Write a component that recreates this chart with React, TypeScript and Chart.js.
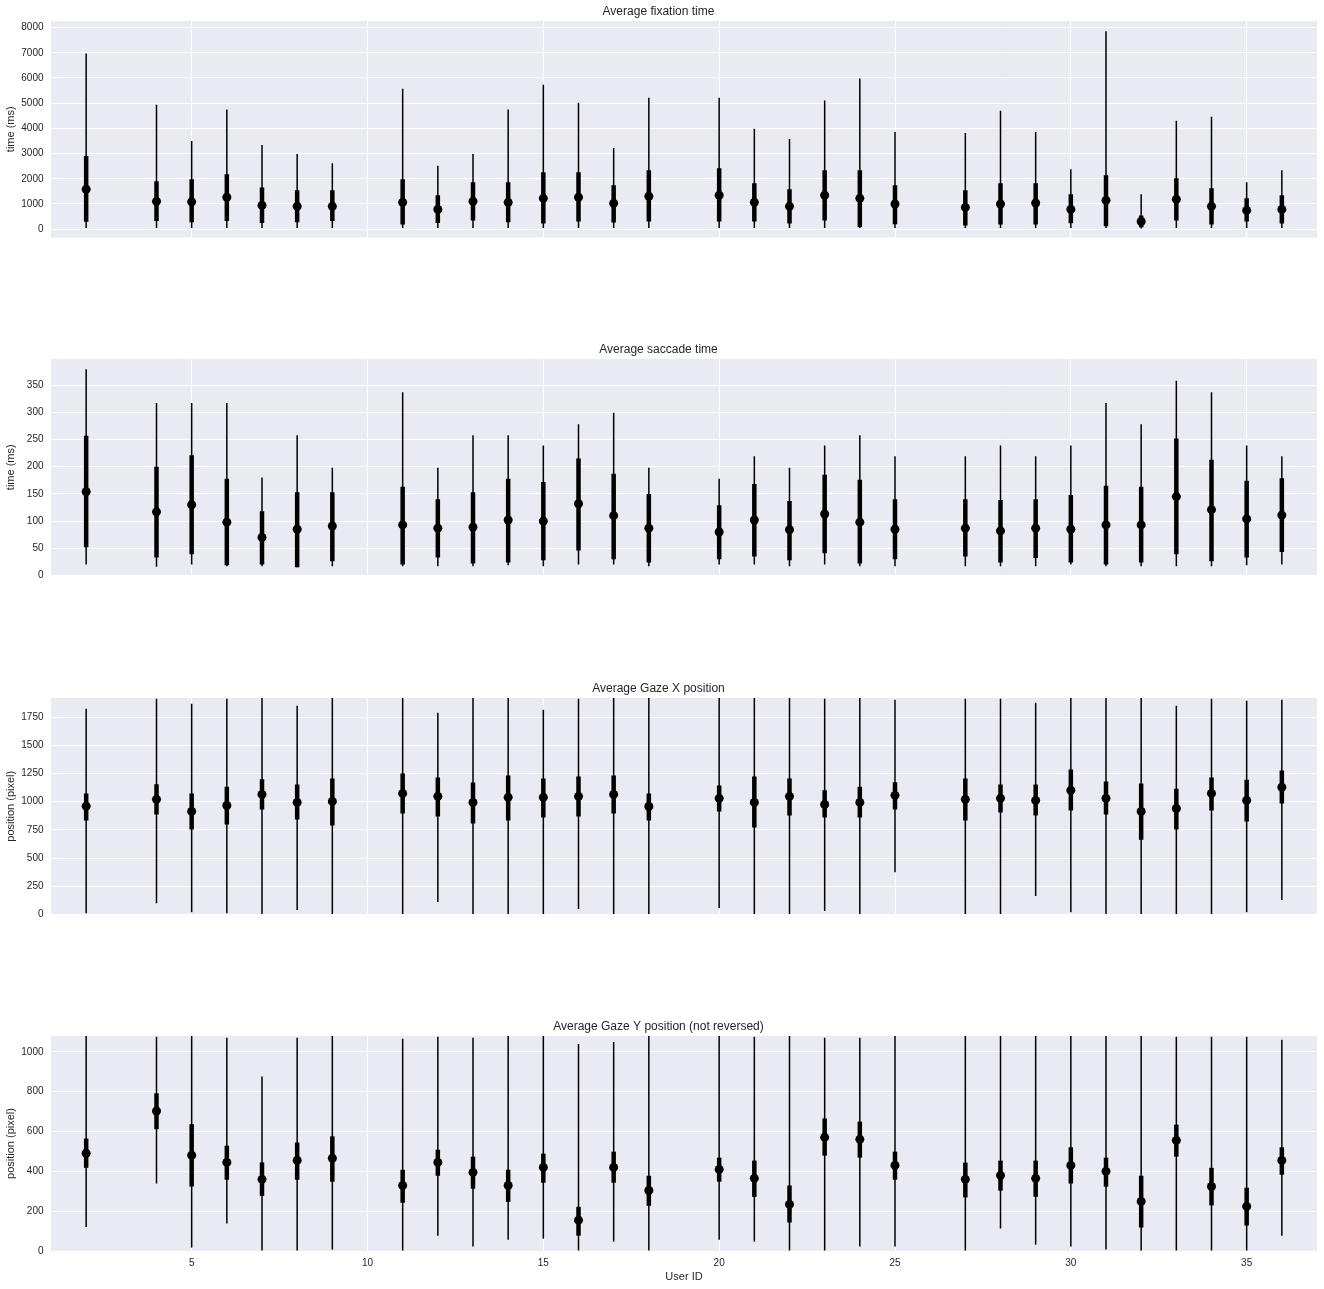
import React, { useEffect, useRef } from "react";
import { Chart, registerables } from "chart.js";

Chart.register(...registerables);

const USER_IDS = [2, 4, 5, 6, 7, 8, 9, 11, 12, 13, 14, 15, 16, 17, 18, 20, 21, 22, 23, 24, 25, 27, 28, 29, 30, 31, 32, 33, 34, 35, 36];
const X_TICKS = [5, 10, 15, 20, 25, 30, 35];

// Average fixation time (ms)
const FIX_MEAN = [1585, 1105, 1085, 1265, 945, 905, 905, 1065, 785, 1105, 1065, 1225, 1265, 1025, 1305, 1345, 1065, 905, 1345, 1225, 1000, 865, 1000, 1040, 785, 1145, 305, 1185, 905, 745, 785];
const FIX_BOX_LO = [290, 320, 280, 320, 250, 280, 320, 190, 250, 345, 280, 225, 305, 265, 305, 305, 305, 225, 345, 90, 200, 150, 190, 190, 240, 120, 80, 345, 190, 305, 225];
const FIX_BOX_HI = [2900, 1900, 1985, 2180, 1650, 1545, 1545, 1985, 1345, 1865, 1865, 2260, 2260, 1745, 2340, 2420, 1825, 1585, 2340, 2340, 1745, 1545, 1825, 1825, 1385, 2140, 545, 2025, 1625, 1225, 1345];
const FIX_MIN = [50, 45, 50, 50, 45, 45, 45, 50, 45, 50, 50, 45, 50, 50, 50, 50, 50, 45, 50, 50, 45, 45, 45, 45, 45, 45, 30, 45, 45, 45, 45];
const FIX_MAX = [6970, 4940, 3500, 4750, 3340, 2980, 2620, 5575, 2515, 2980, 4750, 5735, 5015, 3220, 5215, 5215, 3980, 3580, 5110, 5975, 3860, 3820, 4700, 3860, 2380, 7850, 1385, 4300, 4460, 1865, 2340];
const FIX_TICKS = [0, 1000, 2000, 3000, 4000, 5000, 6000, 7000, 8000];

// Average saccade time (ms)
const SAC_MEAN = [154, 117, 130, 98, 70, 85, 91, 93, 87, 89, 102, 100, 132, 110, 87, 80, 102, 84, 113, 98, 85, 87, 82, 87, 85, 93, 93, 145, 121, 104, 111];
const SAC_BOX_LO = [52, 33, 39, 19, 20, 15, 26, 20, 33, 22, 24, 28, 46, 30, 24, 30, 35, 28, 41, 22, 30, 35, 24, 32, 24, 20, 24, 39, 26, 33, 43];
const SAC_BOX_HI = [257, 200, 221, 178, 118, 153, 153, 163, 140, 153, 178, 172, 215, 187, 150, 129, 168, 137, 185, 176, 140, 140, 139, 140, 148, 165, 163, 252, 213, 174, 179];
const SAC_MIN = [20, 16, 20, 17, 17, 15, 17, 17, 17, 17, 19, 17, 20, 20, 17, 20, 20, 17, 20, 17, 17, 17, 17, 17, 20, 17, 17, 17, 17, 19, 20];
const SAC_MAX = [379, 317, 317, 317, 180, 258, 198, 337, 198, 258, 258, 239, 278, 299, 198, 178, 219, 198, 239, 258, 219, 219, 239, 219, 239, 317, 278, 358, 337, 239, 219];
const SAC_TICKS = [0, 50, 100, 150, 200, 250, 300, 350];

// Average gaze X position (pixel)
const GX_MEAN = [961, 1021, 914, 967, 1065, 994, 1003, 1074, 1048, 994, 1039, 1039, 1048, 1065, 958, 1030, 994, 1048, 976, 994, 1057, 1021, 1030, 1012, 1101, 1030, 914, 940, 1074, 1012, 1128];
const GX_BOX_LO = [833, 887, 753, 798, 932, 842, 789, 896, 869, 807, 833, 860, 869, 896, 833, 914, 771, 878, 860, 860, 932, 833, 905, 878, 923, 887, 664, 753, 923, 824, 985];
const GX_BOX_HI = [1074, 1155, 1074, 1134, 1199, 1152, 1205, 1250, 1214, 1170, 1232, 1205, 1223, 1232, 1074, 1143, 1223, 1205, 1101, 1134, 1173, 1205, 1152, 1152, 1286, 1179, 1161, 1116, 1214, 1196, 1277];
const GX_MIN = [10, 100, 21, 10, 0, 39, 0, 0, 110, 0, 0, 0, 48, 0, 0, 57, 0, 0, 30, 0, 375, 0, 0, 164, 21, 0, 0, 0, 0, 21, 128];
const GX_MAX = [1824, 1914, 1869, 1914, 1920, 1851, 1920, 1920, 1789, 1920, 1920, 1815, 1914, 1920, 1920, 1920, 1920, 1920, 1914, 1920, 1905, 1914, 1914, 1878, 1920, 1920, 1920, 1851, 1914, 1896, 1905];
const GX_TICKS = [0, 250, 500, 750, 1000, 1250, 1500, 1750];

// Average gaze Y position (pixel)
const GY_MEAN = [491, 703, 481, 445, 360, 455, 466, 329, 445, 395, 329, 420, 155, 420, 304, 410, 365, 234, 571, 561, 430, 360, 380, 365, 430, 400, 249, 556, 324, 224, 455];
const GY_BOX_LO = [418, 612, 324, 358, 277, 358, 348, 242, 378, 313, 247, 343, 77, 343, 227, 348, 272, 143, 479, 469, 358, 269, 303, 272, 339, 323, 118, 474, 229, 128, 383];
const GY_BOX_HI = [565, 792, 637, 529, 445, 545, 576, 408, 509, 474, 408, 489, 222, 499, 378, 469, 454, 329, 666, 650, 499, 444, 454, 454, 521, 469, 378, 635, 418, 318, 521];
const GY_MIN = [121, 339, 17, 138, 0, 0, 7, 0, 77, 22, 57, 62, 0, 47, 0, 57, 47, 0, 0, 22, 22, 0, 113, 32, 22, 7, 0, 0, 0, 0, 77];
const GY_MAX = [1080, 1076, 1080, 1071, 877, 1071, 1080, 1066, 1076, 1071, 1080, 1080, 1040, 1050, 1080, 1080, 1076, 1080, 1071, 1071, 1080, 1080, 1080, 1080, 1080, 1080, 1080, 1076, 1076, 1076, 1061];
const GY_TICKS = [0, 200, 400, 600, 800, 1000];

const FONT = "'Liberation Sans', Arial, sans-serif";
const TEXT = "#262626";
const BG = "#EAEAF2";

type PanelDef = {
  title: string;
  yLabel: string;
  yMin: number;
  yMax: number;
  yTicks: number[];
  mean: number[];
  boxLo: number[];
  boxHi: number[];
  rangeLo: number[];
  rangeHi: number[];
};

const PANELS: PanelDef[] = [
  { title: "Average fixation time", yLabel: "time (ms)", yMin: -330, yMax: 8260, yTicks: FIX_TICKS, mean: FIX_MEAN, boxLo: FIX_BOX_LO, boxHi: FIX_BOX_HI, rangeLo: FIX_MIN, rangeHi: FIX_MAX },
  { title: "Average saccade time", yLabel: "time (ms)", yMin: 0, yMax: 398, yTicks: SAC_TICKS, mean: SAC_MEAN, boxLo: SAC_BOX_LO, boxHi: SAC_BOX_HI, rangeLo: SAC_MIN, rangeHi: SAC_MAX },
  { title: "Average Gaze X position", yLabel: "position (pixel)", yMin: 0, yMax: 1920, yTicks: GX_TICKS, mean: GX_MEAN, boxLo: GX_BOX_LO, boxHi: GX_BOX_HI, rangeLo: GX_MIN, rangeHi: GX_MAX },
  { title: "Average Gaze Y position (not reversed)", yLabel: "position (pixel)", yMin: 0, yMax: 1080, yTicks: GY_TICKS, mean: GY_MEAN, boxLo: GY_BOX_LO, boxHi: GY_BOX_HI, rangeLo: GY_MIN, rangeHi: GY_MAX },
];

const bgPlugin = {
  id: "plotBg",
  beforeDraw(chart: any) {
    const { ctx, chartArea: a } = chart;
    ctx.save();
    ctx.fillStyle = BG;
    ctx.fillRect(a.left, a.top, a.right - a.left, a.bottom - a.top);
    ctx.restore();
  },
};

function PanelChart({ p, top, height, last }: { p: PanelDef; top: number; height: number; last: boolean }) {
  const ref = useRef<HTMLCanvasElement | null>(null);
  useEffect(() => {
    const pairs = (lo: number[], hi: number[]) => USER_IDS.map((u, i) => ({ x: u, y: [lo[i], hi[i]] }));
    const chart = new Chart(ref.current as HTMLCanvasElement, {
      type: "bar",
      data: {
        datasets: [
          {
            type: "scatter",
            data: USER_IDS.map((u, i) => ({ x: u, y: p.mean[i] })),
            backgroundColor: "#000",
            borderColor: "#000",
            pointRadius: 4.5,
            pointHoverRadius: 4.5,
            pointBorderWidth: 0,
            order: 0,
          } as any,
          {
            type: "bar",
            data: pairs(p.boxLo, p.boxHi),
            backgroundColor: "#000",
            borderWidth: 0,
            inflateAmount: 0,
            barThickness: 4.5,
            grouped: false,
            order: 1,
          } as any,
          {
            type: "bar",
            data: pairs(p.rangeLo, p.rangeHi),
            backgroundColor: "#000",
            borderWidth: 0,
            inflateAmount: 0,
            barThickness: 1.5,
            grouped: false,
            order: 2,
          } as any,
        ],
      },
      options: {
        animation: false,
        responsive: false,
        devicePixelRatio: 1,
        layout: { padding: { left: 0, right: 7, top: 0, bottom: last ? 0 : 10 } },
        plugins: {
          legend: { display: false },
          tooltip: { enabled: false },
          title: {
            display: true,
            text: p.title,
            color: TEXT,
            font: { family: FONT, size: 12, weight: "normal" },
            padding: { top: 4.5, bottom: 2.1 },
          },
        },
        scales: {
          x: {
            type: "linear",
            min: 1,
            max: 37,
            offset: false,
            afterBuildTicks: (s: any) => {
              s.ticks = X_TICKS.map((v) => ({ value: v }));
            },
            afterFit: (s: any) => {
              s.height = last ? 36 : 0;
            },
            grid: { color: "#ffffff", lineWidth: 1, drawTicks: false, offset: false },
            border: { display: false },
            ticks: {
              display: last,
              color: TEXT,
              font: { family: FONT, size: 10 },
              padding: 6.5,
              maxRotation: 0,
              autoSkip: false,
              callback: (v: any) => String(v),
            },
            title: {
              display: last,
              text: "User ID",
              color: TEXT,
              font: { family: FONT, size: 11 },
              padding: { top: 0, bottom: 3.4 },
            },
          },
          y: {
            type: "linear",
            min: p.yMin,
            max: p.yMax,
            afterBuildTicks: (s: any) => {
              s.ticks = p.yTicks.map((v) => ({ value: v }));
            },
            afterFit: (s: any) => {
              s.width = 51;
            },
            grid: { color: "#ffffff", lineWidth: 1, drawTicks: false },
            border: { display: false },
            ticks: {
              color: TEXT,
              font: { family: FONT, size: 10 },
              padding: 7.5,
              autoSkip: false,
              callback: (v: any) => String(v),
            },
            title: {
              display: true,
              text: p.yLabel,
              color: TEXT,
              font: { family: FONT, size: 11 },
              padding: { top: 4.6, bottom: 0 },
            },
          },
        },
      } as any,
      plugins: [bgPlugin],
    });
    return () => chart.destroy();
  }, [p, last]);
  return (
    <canvas
      ref={ref}
      width={1324}
      height={height}
      style={{ position: "absolute", left: 0, top, width: 1324, height, display: "block" }}
    />
  );
}

const CANVAS_TOPS = [0, 338, 677, 1015];
const CANVAS_HEIGHTS = [251, 251, 251, 272];

export default function App() {
  return (
    <div style={{ position: "absolute", left: 0, top: 0, width: 1324, height: 1289, overflow: "hidden", background: "#ffffff" }}>
      {PANELS.map((p, i) => (
        <PanelChart key={i} p={p} top={CANVAS_TOPS[i]} height={CANVAS_HEIGHTS[i]} last={i === 3} />
      ))}
    </div>
  );
}
